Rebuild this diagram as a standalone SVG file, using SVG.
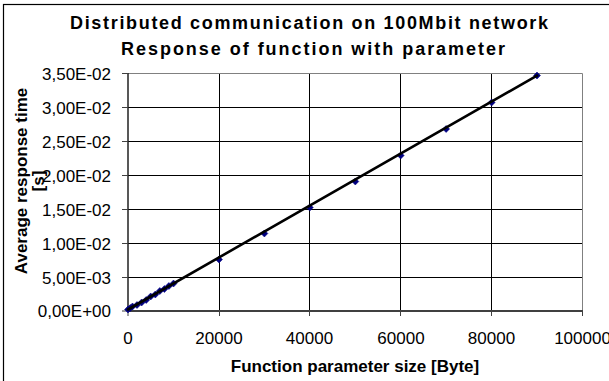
<svg xmlns="http://www.w3.org/2000/svg" width="609" height="381" viewBox="0 0 609 381">
  <style>
    text { font-family: "Liberation Sans", Arial, sans-serif; fill: #000; }
    .title { font-size: 18px; font-weight: bold; }
    .axis-title { font-size: 17px; font-weight: bold; }
    .tick { font-size: 17px; }
    .grid { stroke: #000; stroke-width: 1; fill: none; }
    .frame { stroke: #808080; stroke-width: 1; fill: none; }
    .axis { stroke: #404040; stroke-width: 2; fill: none; }
    .tickmark { stroke: #404040; stroke-width: 1; }
    .trend { stroke: #000; stroke-width: 2.6; fill: none; stroke-linecap: round; }
    .pt { fill: #000080; stroke: #000080; stroke-width: 0.5; }
  </style>
  <defs>
    <path id="diamond" d="M0,-3.5 L3.5,0 L0,3.5 L-3.5,0 Z"/>
  </defs>

  <!-- chart area background and outline -->
  <rect x="0" y="0" width="609" height="381" fill="#fff"/>
  <rect x="3.5" y="4.5" width="640" height="420" fill="#fff" stroke="#000" stroke-width="1.2"/>

  <!-- chart title -->
  <g id="title">
    <text class="title" x="70" y="28.5" textLength="478" lengthAdjust="spacing">Distributed communication on 100Mbit network</text>
    <text class="title" x="121" y="55" textLength="384" lengthAdjust="spacing">Response of function with parameter</text>
  </g>

  <!-- plot area: gridlines and frame -->
  <g id="plot-area">
    <rect x="128" y="73.5" width="454.5" height="237.5" fill="#fff"/>
    <g class="grid">
      <line x1="128" y1="107.5" x2="582.5" y2="107.5"/>
      <line x1="128" y1="141.5" x2="582.5" y2="141.5"/>
      <line x1="128" y1="175.5" x2="582.5" y2="175.5"/>
      <line x1="128" y1="209.5" x2="582.5" y2="209.5"/>
      <line x1="128" y1="243.5" x2="582.5" y2="243.5"/>
      <line x1="128" y1="277.5" x2="582.5" y2="277.5"/>
      <line x1="219.5" y1="73.5" x2="219.5" y2="311"/>
      <line x1="309.5" y1="73.5" x2="309.5" y2="311"/>
      <line x1="400.5" y1="73.5" x2="400.5" y2="311"/>
      <line x1="491.5" y1="73.5" x2="491.5" y2="311"/>
    </g>
    <path class="frame" d="M128,73.5 H582.5 V311"/>
  </g>

  <!-- axes -->
  <g id="y-axis">
    <line x1="128" y1="73" x2="128" y2="312" stroke="#202020" stroke-width="1.5"/>
    <g class="tickmark">
      <line x1="122" y1="73.5" x2="128" y2="73.5"/>
      <line x1="122" y1="107.5" x2="128" y2="107.5"/>
      <line x1="122" y1="141.5" x2="128" y2="141.5"/>
      <line x1="122" y1="175.5" x2="128" y2="175.5"/>
      <line x1="122" y1="209.5" x2="128" y2="209.5"/>
      <line x1="122" y1="243.5" x2="128" y2="243.5"/>
      <line x1="122" y1="277.5" x2="128" y2="277.5"/>
      <line x1="122" y1="311" x2="128" y2="311"/>
    </g>
    <g class="tick" text-anchor="end">
      <text class="tick" x="111" y="79.5">3,50E-02</text>
      <text class="tick" x="111" y="113.5">3,00E-02</text>
      <text class="tick" x="111" y="147.5">2,50E-02</text>
      <text class="tick" x="111" y="181.5">2,00E-02</text>
      <text class="tick" x="111" y="215.5">1,50E-02</text>
      <text class="tick" x="111" y="249.5">1,00E-02</text>
      <text class="tick" x="111" y="283.5">5,00E-03</text>
      <text class="tick" x="111" y="317">0,00E+00</text>
    </g>
    <text class="axis-title" transform="translate(26.5,181) rotate(-90)" text-anchor="middle">Average response time</text>
    <text class="axis-title" transform="translate(44,181) rotate(-90)" text-anchor="middle">[s]</text>
  </g>

  <g id="x-axis">
    <line class="axis" x1="127" y1="311" x2="583" y2="311"/>
    <g class="tickmark">
      <line x1="128" y1="311" x2="128" y2="316"/>
      <line x1="219.5" y1="311" x2="219.5" y2="316"/>
      <line x1="309.5" y1="311" x2="309.5" y2="316"/>
      <line x1="400.5" y1="311" x2="400.5" y2="316"/>
      <line x1="491.5" y1="311" x2="491.5" y2="316"/>
      <line x1="582.5" y1="311" x2="582.5" y2="316"/>
    </g>
    <g text-anchor="middle">
      <text class="tick" x="128" y="343.5">0</text>
      <text class="tick" x="219" y="343.5">20000</text>
      <text class="tick" x="309.5" y="343.5">40000</text>
      <text class="tick" x="401" y="343.5">60000</text>
      <text class="tick" x="491.5" y="343.5">80000</text>
      <text class="tick" x="582.5" y="343.5">100000</text>
    </g>
    <text class="axis-title" x="355" y="371.5" text-anchor="middle">Function parameter size [Byte]</text>
  </g>

  <!-- measured data points and linear trend -->
  <g id="series">
    <use href="#diamond" class="pt" x="128" y="309.5"/>
    <use href="#diamond" class="pt" x="130.3" y="308"/>
    <use href="#diamond" class="pt" x="132.5" y="306.5"/>
    <use href="#diamond" class="pt" x="137" y="305"/>
    <use href="#diamond" class="pt" x="141.6" y="302.5"/>
    <use href="#diamond" class="pt" x="146.2" y="300"/>
    <use href="#diamond" class="pt" x="150.7" y="296.5"/>
    <use href="#diamond" class="pt" x="155.3" y="294.5"/>
    <use href="#diamond" class="pt" x="159.8" y="291"/>
    <use href="#diamond" class="pt" x="164.4" y="289"/>
    <use href="#diamond" class="pt" x="168.9" y="286"/>
    <use href="#diamond" class="pt" x="173.5" y="283.5"/>
    <use href="#diamond" class="pt" x="219" y="259.5"/>
    <use href="#diamond" class="pt" x="264.4" y="233.5"/>
    <use href="#diamond" class="pt" x="309.8" y="207.5"/>
    <use href="#diamond" class="pt" x="355.3" y="181.5"/>
    <use href="#diamond" class="pt" x="400.7" y="155.5"/>
    <use href="#diamond" class="pt" x="446.1" y="129"/>
    <use href="#diamond" class="pt" x="491.6" y="102.5"/>
    <use href="#diamond" class="pt" x="537" y="75.5"/>
    <line class="trend" x1="128" y1="309.5" x2="537" y2="75.6"/>
  </g>
</svg>
